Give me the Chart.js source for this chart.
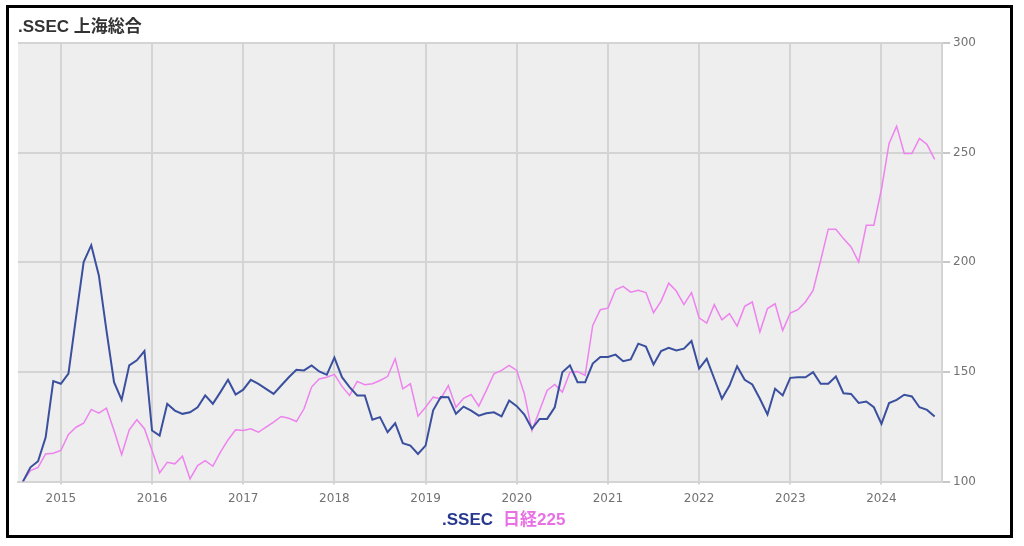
<!DOCTYPE html>
<html>
<head>
<meta charset="utf-8">
<script src="https://cdn.jsdelivr.net/npm/chart.js@4.4.1/dist/chart.umd.min.js"></script>
<style>
  html, body { margin: 0; padding: 0; background: #fff; }
  #wrap { position: relative; width: 1024px; height: 546px; overflow: hidden; }
  #frame { position: absolute; left: 6px; top: 5px; width: 1001px; height: 527px; border: 3px solid #000; }
  #chart { position: absolute; left: 0; top: 0; }
  #title { position: absolute; left: 18px; top: 12px; font: bold 17px "Liberation Sans", "Noto Sans CJK JP", sans-serif; color: #333; white-space: nowrap; }
  #legend { position: absolute; left: 442px; top: 505px; font: bold 17px "Liberation Sans", "Noto Sans CJK JP", sans-serif; white-space: nowrap; }
  #legend .ssec { color: #27398f; margin-right: 10px; }
  #legend .nk { color: #e86fe4; }
</style>
</head>
<body>
<div id="wrap">
  <canvas id="chart" width="1024" height="546"></canvas>
  <div id="frame"></div>
  <div id="title">.SSEC 上海総合</div>
  <div id="legend"><span class="ssec">.SSEC</span><span class="nk">日経225</span></div>
</div>
<script>
// monthly, Aug 2014 .. Aug 2024, both indexed to 100 at start
const startYear = 2014;
const startMonth = 8;

const ssec = [
  100, 106.5, 109.3, 120.2, 145.8, 144.6, 149.2, 175, 200.1, 207.8, 194, 169, 145.3, 137.3, 153, 155.3, 159.5, 123.3, 121, 135.5, 132.4, 130.9, 131.6, 133.9, 139.3, 135.5,
  140.8, 146.4, 139.7, 141.9, 146.4, 144.6, 142.3, 140, 143.8, 147.6, 151, 150.7, 153, 150.2, 148.7, 156.5, 147.6, 143.1, 139.3, 139.3, 128.2, 129.4, 122.5, 126.6, 117.5, 116.4,
  112.6, 116.4, 132.5, 138.6, 138.5, 130.9, 134.2, 132.4, 130.1, 131.2, 131.6, 129.7, 137, 134.4, 130.6, 124.1, 128.6, 128.6, 133.9, 149.9, 153, 145.3, 145.3, 153.8, 156.8,
  156.8, 157.9, 154.9, 155.7, 162.9, 161.6, 153.4, 159.5, 161, 159.8, 160.6, 164.1, 151.5, 156, 146.9, 137.8, 143.8, 152.6, 146.4, 144.3, 137.8, 130.6, 142.3, 139.3, 147.3, 147.6,
  147.6, 149.9, 144.6, 144.6, 147.9, 140.3, 140, 135.9, 136.5, 133.9, 126.3, 135.8, 137.3, 139.6, 138.8, 133.9, 132.7, 129.7
];

const nikkei = [
  100, 105, 106.5, 112.6, 112.9, 114.2, 121.5, 124.8, 126.6, 132.9, 131.2, 133.5, 123.3, 112.3, 123.6, 128.2, 124.1, 114.2, 104, 108.8, 108.1, 111.6, 101.2, 107.3, 109.6, 107,
  113.4, 119, 123.6, 123.3, 124.1, 122.5, 124.8, 127.1, 129.7, 128.9, 127.4, 133.2, 143.1, 146.8, 147.6, 148.9, 143.4, 139.3, 145.7, 144.2, 144.6, 146.1, 147.9, 156, 142.3, 144.6,
  129.8, 133.9, 138.5, 137.8, 143.8, 133.9, 138, 139.7, 134.4, 141.6, 149.2, 150.7, 153, 150.7, 140, 123.3, 132.4, 141.6, 144.3, 140.8, 149.9, 150.2, 148.4, 171.2, 178.4,
  179.1, 187.5, 189, 186.4, 187.2, 186.2, 177, 182.3, 190.5, 186.9, 180.7, 186.2, 174.7, 172.3, 180.7, 173.8, 176.6, 170.9, 179.9, 181.9, 168.2, 178.9, 181.1, 168.9, 176.9, 178.4,
  181.9, 187.2, 200.9, 215.1, 215.1, 210.8, 207, 200.1, 216.9, 216.9, 233.3, 254.2, 262.1, 249.6, 249.6, 256.5, 253.7, 246.9
];

const yearTicks = [2015, 2016, 2017, 2018, 2019, 2020, 2021, 2022, 2023, 2024];
const valueTicks = [100, 150, 200, 250, 300];

// month position as fractional year
const monthX = ssec.map((_, i) => startYear + (startMonth - 1 + i) / 12);
const toPoints = arr => arr.map((v, i) => ({ x: monthX[i], y: v }));

const plotBg = {
  id: 'plotBg',
  beforeDraw(chart) {
    const { ctx, chartArea: a } = chart;
    ctx.save();
    ctx.fillStyle = '#eeeeee';
    ctx.fillRect(a.left, a.top, a.right - a.left, a.bottom - a.top);
    ctx.restore();
  }
};

const tickFont = { family: 'DejaVu Sans', size: 12 };

new Chart(document.getElementById('chart').getContext('2d'), {
  type: 'line',
  data: {
    datasets: [
      {
        label: '.SSEC',
        data: toPoints(ssec),
        borderColor: '#3a4f9e',
        borderWidth: 2,
        pointRadius: 0,
        tension: 0
      },
      {
        label: '日経225',
        data: toPoints(nikkei),
        borderColor: '#ee82ee',
        borderWidth: 1.5,
        pointRadius: 0,
        tension: 0
      }
    ]
  },
  options: {
    responsive: false,
    animation: false,
    layout: { padding: { left: 18, top: 43, right: 45, bottom: 33 } },
    plugins: {
      legend: { display: false },
      tooltip: { enabled: false }
    },
    scales: {
      x: {
        type: 'linear',
        min: 2014.53,
        max: 2024.665,
        afterBuildTicks: s => { s.ticks = yearTicks.map(v => ({ value: v })); },
        ticks: {
          color: '#727272',
          font: tickFont,
          padding: 7,
          maxRotation: 0,
          callback: v => String(v)
        },
        grid: { color: '#d4d4d4', lineWidth: 2, tickLength: 3, tickColor: '#d4d4d4' },
        border: { display: true, color: '#d4d4d4', width: 2 }
      },
      y: {
        position: 'right',
        min: 100,
        max: 300,
        afterBuildTicks: s => { s.ticks = valueTicks.map(v => ({ value: v })); },
        ticks: { color: '#727272', font: tickFont, padding: 3 },
        grid: { color: '#d4d4d4', lineWidth: 2, tickLength: 8, tickColor: '#c8c8c8' },
        border: { display: true, color: '#d4d4d4', width: 2 }
      }
    }
  },
  plugins: [plotBg]
});
</script>
</body>
</html>
